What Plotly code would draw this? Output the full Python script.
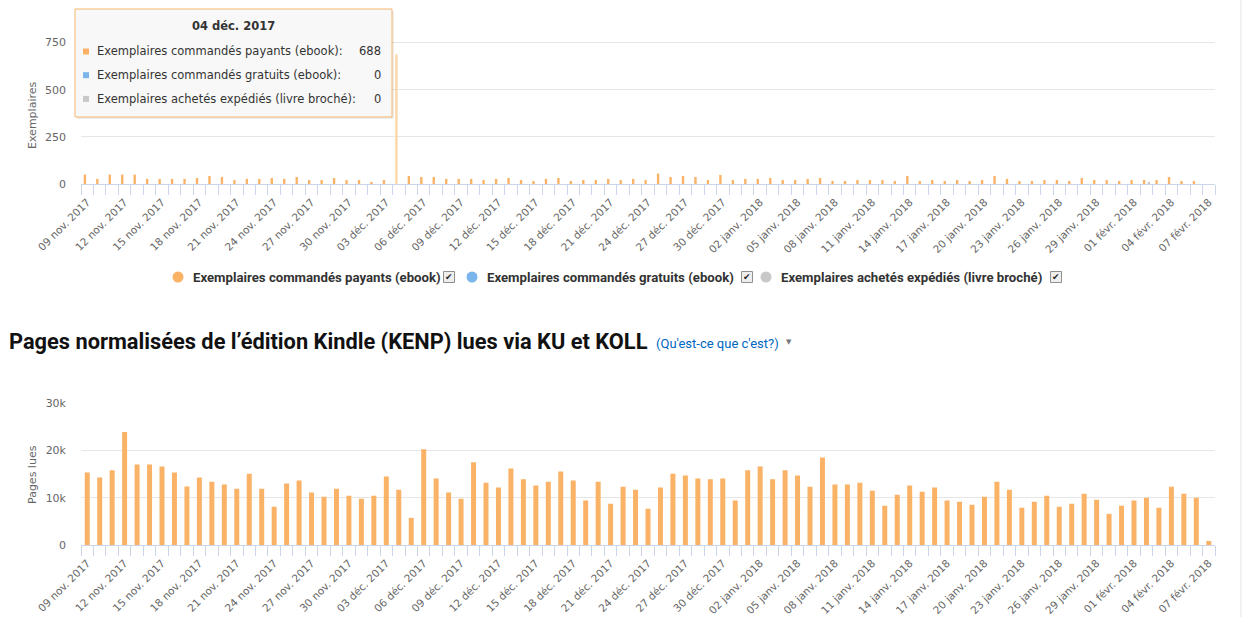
import plotly.graph_objects as go

W, H = 1243, 617

# ---------------- data ----------------
tick_labels = [
    "09 nov. 2017", "12 nov. 2017", "15 nov. 2017", "18 nov. 2017", "21 nov. 2017",
    "24 nov. 2017", "27 nov. 2017", "30 nov. 2017", "03 déc. 2017", "06 déc. 2017",
    "09 déc. 2017", "12 déc. 2017", "15 déc. 2017", "18 déc. 2017", "21 déc. 2017",
    "24 déc. 2017", "27 déc. 2017", "30 déc. 2017", "02 janv. 2018", "05 janv. 2018",
    "08 janv. 2018", "11 janv. 2018", "14 janv. 2018", "17 janv. 2018", "20 janv. 2018",
    "23 janv. 2018", "26 janv. 2018", "29 janv. 2018", "01 févr. 2018", "04 févr. 2018",
    "07 févr. 2018",
]

paid_ebook = [
    50, 27, 50, 50, 50, 27, 27, 27, 27, 32,
    42, 37, 21, 27, 27, 32, 27, 37, 21, 21,
    32, 21, 21, 11, 21, 688, 42, 37, 37, 27,
    27, 27, 21, 27, 32, 21, 16, 27, 32, 16,
    21, 21, 27, 21, 27, 21, 55, 37, 42, 37,
    21, 48, 21, 27, 27, 32, 21, 21, 27, 32,
    16, 16, 21, 21, 21, 16, 42, 16, 21, 16,
    21, 16, 21, 42, 27, 16, 16, 21, 21, 16,
    32, 21, 21, 16, 21, 21, 21, 37, 16, 16,
    0,
]
free_ebook = [0] * 91
paperback = [0] * 85 + [10] + [0] * 5

kenp_pages = [
    15350, 14300, 15800, 23900, 17050, 17050, 16600, 15350, 12400, 14300,
    13400, 12800, 11900, 15100, 11900, 8100, 13000, 13650, 11100, 10200,
    11900, 10450, 9800, 10450, 14500, 11700, 5750, 20250, 14100, 11100,
    9800, 17500, 13200, 12150, 16200, 13900, 12600, 13400, 15550, 13650,
    9400, 13400, 8750, 12350, 11700, 7700, 12150, 15100, 14700, 14100,
    13900, 14100, 9400, 15800, 16600, 13900, 15800, 14700, 12350, 18550,
    12800, 12800, 13200, 11500, 8300, 10650, 12600, 11300, 12150, 9400,
    9150, 8500, 10200, 13400, 11700, 7900, 9150, 10450, 8100, 8750,
    10850, 9600, 6600, 8300, 9400, 10000, 7900, 12350, 10850, 10000,
    850,
]

series_names = [
    "Exemplaires commandés payants (ebook)",
    "Exemplaires commandés gratuits (ebook)",
    "Exemplaires achetés expédiés (livre broché)",
]
hover_index = 25
hover_date = "04 déc. 2017"

ORANGE = "#f9b266"
ORANGE_HOVER = "#fbd7a6"
BLUE = "#7cb5ec"
GREY = "#c8c8c8"

n = len(kenp_pages)
x_idx = list(range(n))
tickvals = list(range(0, n, 3))
boundaries = [i - 0.5 for i in range(n + 1)]


def px(xpix):
    return xpix / W


def py(ypix):
    return 1 - ypix / H


fig = go.Figure()

bw = 0.19
paid_colors = [ORANGE_HOVER if i == hover_index else ORANGE for i in x_idx]
fig.add_trace(go.Bar(x=x_idx, y=paid_ebook, name=series_names[0], marker_color=paid_colors,
                     width=bw, offset=-1.5 * bw, marker_line_width=0, xaxis="x", yaxis="y"))
fig.add_trace(go.Bar(x=x_idx, y=free_ebook, name=series_names[1], marker_color=BLUE,
                     width=bw, offset=-0.5 * bw, marker_line_width=0, xaxis="x", yaxis="y"))
fig.add_trace(go.Bar(x=x_idx, y=paperback, name=series_names[2], marker_color=GREY,
                     width=bw, offset=0.5 * bw, marker_line_width=0, xaxis="x", yaxis="y"))
fig.add_trace(go.Bar(x=x_idx, y=kenp_pages, name="Pages lues", marker_color=ORANGE,
                     width=0.4, marker_line_width=0, xaxis="x2", yaxis="y2"))

TICKFONT = dict(family="DejaVu Sans", size=11, color="#666666")
XTICKFONT = dict(family="DejaVu Sans", size=10.5, color="#666666")

xaxis_common = dict(
    range=[-0.5, n - 0.5],
    tickmode="array", tickvals=tickvals, ticktext=tick_labels,
    tickangle=-45, tickfont=XTICKFONT,
    ticks="outside", ticklen=7, tickcolor="rgba(0,0,0,0)",
    minor=dict(tickmode="array", tickvals=boundaries, ticks="outside", ticklen=10,
               tickcolor="#ccd6eb", tickwidth=1, showgrid=False),
    showline=True, linecolor="#ccd6eb", linewidth=1,
    showgrid=False, zeroline=False, fixedrange=True, automargin=False,
)

yaxis_common = dict(
    tickmode="array", tickfont=TICKFONT, ticks="", ticklabelstandoff=14,
    showgrid=True, gridcolor="#e6e6e6", gridwidth=1,
    zeroline=False, showline=False, fixedrange=True, automargin=False,
)

fig.update_layout(
    width=W, height=H, autosize=False,
    margin=dict(l=0, r=0, t=0, b=0, pad=0, autoexpand=False),
    paper_bgcolor="white", plot_bgcolor="white",
    showlegend=False, hovermode=False, barmode="overlay",
    xaxis=dict(domain=[px(81), px(1215)], anchor="y", **xaxis_common),
    yaxis=dict(domain=[py(184), 1.0], anchor="x", range=[0, 976],
               tickvals=[0, 250, 500, 750], ticktext=["0", "250", "500", "750"],
               **yaxis_common),
    xaxis2=dict(domain=[px(81), px(1215)], anchor="y2", **xaxis_common),
    yaxis2=dict(domain=[py(545), py(403.3)], anchor="x2", range=[0, 30000],
                tickvals=[0, 10000, 20000, 30000], ticktext=["0", "10k", "20k", "30k"],
                **yaxis_common),
)

shapes = []
annotations = []

# axis titles
annotations.append(dict(x=px(32), y=py(115), xref="paper", yref="paper", text="Exemplaires",
                        textangle=-90, showarrow=False, xanchor="center", yanchor="middle",
                        font=dict(family="DejaVu Sans", size=11, color="#666666")))
annotations.append(dict(x=px(32), y=py(474), xref="paper", yref="paper", text="Pages lues",
                        textangle=-90, showarrow=False, xanchor="center", yanchor="middle",
                        font=dict(family="DejaVu Sans", size=11, color="#666666")))

# ---- legend (top chart) ----
legend_items = [
    (178, 191, 449, ORANGE, series_names[0]),
    (472, 485, 747, BLUE, series_names[1]),
    (766, 779, 1056, GREY, series_names[2]),
]
ly = 277
for cx, tx, chk, col, name in legend_items:
    shapes.append(dict(type="circle", xref="paper", yref="paper",
                       x0=px(cx - 5.5), x1=px(cx + 5.5), y0=py(ly + 5.5), y1=py(ly - 5.5),
                       fillcolor=col, line=dict(width=0)))
    annotations.append(dict(x=px(tx), y=py(ly), xref="paper", yref="paper",
                            text="<b>" + name + "</b>", showarrow=False,
                            xanchor="left", yanchor="middle",
                            font=dict(family="Roboto", size=13.2, color="#333333")))
    shapes.append(dict(type="rect", xref="paper", yref="paper",
                       x0=px(chk - 5.5), x1=px(chk + 5.5), y0=py(ly + 5.5), y1=py(ly - 5.5),
                       fillcolor="#eeeeee", line=dict(color="#8f8f8f", width=1)))
    annotations.append(dict(x=px(chk), y=py(ly), xref="paper", yref="paper",
                            text="✔", showarrow=False, xanchor="center", yanchor="middle",
                            font=dict(family="DejaVu Sans", size=9, color="#222222")))

# ---- section title ----
annotations.append(dict(x=px(7), y=py(342), xref="paper", yref="paper",
                        text="<b>Pages normalisées de l’édition Kindle (KENP) lues via KU et KOLL</b>",
                        showarrow=False, xanchor="left", yanchor="middle",
                        font=dict(family="Roboto", size=21.8, color="#111111")))
annotations.append(dict(x=px(654), y=py(343), xref="paper", yref="paper",
                        text="(Qu'est-ce que c'est?)",
                        showarrow=False, xanchor="left", yanchor="middle",
                        font=dict(family="Roboto", size=13, color="#0066c0")))
annotations.append(dict(x=px(789), y=py(342), xref="paper", yref="paper",
                        text="▼", showarrow=False, xanchor="center", yanchor="middle",
                        font=dict(family="DejaVu Sans", size=7, color="#777777")))

# ---- page border on the right ----
shapes.append(dict(type="line", xref="paper", yref="paper", x0=px(1241), x1=px(1241),
                   y0=0, y1=1, line=dict(color="#e3e3e3", width=1)))

# ---- tooltip ----
tx0, tx1, ty0, ty1 = 75, 392, 9, 117
shapes.append(dict(type="rect", xref="paper", yref="paper",
                   x0=px(tx0 + 2), x1=px(tx1 + 2), y0=py(ty1 + 2), y1=py(ty0 + 2),
                   fillcolor="rgba(0,0,0,0.07)", line=dict(width=0)))
shapes.append(dict(type="rect", xref="paper", yref="paper",
                   x0=px(tx0), x1=px(tx1), y0=py(ty1), y1=py(ty0),
                   fillcolor="rgba(248,248,248,0.97)", line=dict(color="#f7b56f", width=1)))
annotations.append(dict(x=px((tx0 + tx1) / 2), y=py(26), xref="paper", yref="paper",
                        text="<b>" + hover_date + "</b>", showarrow=False,
                        xanchor="center", yanchor="middle",
                        font=dict(family="DejaVu Sans", size=11.5, color="#333333")))
tip_vals = [paid_ebook[hover_index], free_ebook[hover_index], paperback[hover_index]]
tip_cols = [ORANGE, BLUE, GREY]
for i, (nm, v, c) in enumerate(zip(series_names, tip_vals, tip_cols)):
    yy = 51.5 + i * 23.7
    shapes.append(dict(type="rect", xref="paper", yref="paper",
                       x0=px(83), x1=px(89), y0=py(yy + 3), y1=py(yy - 3),
                       fillcolor=c, line=dict(width=0)))
    annotations.append(dict(x=px(95), y=py(yy), xref="paper", yref="paper",
                            text=nm + ":", showarrow=False, xanchor="left", yanchor="middle",
                            font=dict(family="DejaVu Sans", size=11.5, color="#333333")))
    annotations.append(dict(x=px(383), y=py(yy), xref="paper", yref="paper",
                            text=str(v), showarrow=False, xanchor="right", yanchor="middle",
                            font=dict(family="DejaVu Sans", size=11.5, color="#333333")))

fig.update_layout(shapes=shapes, annotations=annotations)

fig.write_html("out.html", config={"displayModeBar": False})
